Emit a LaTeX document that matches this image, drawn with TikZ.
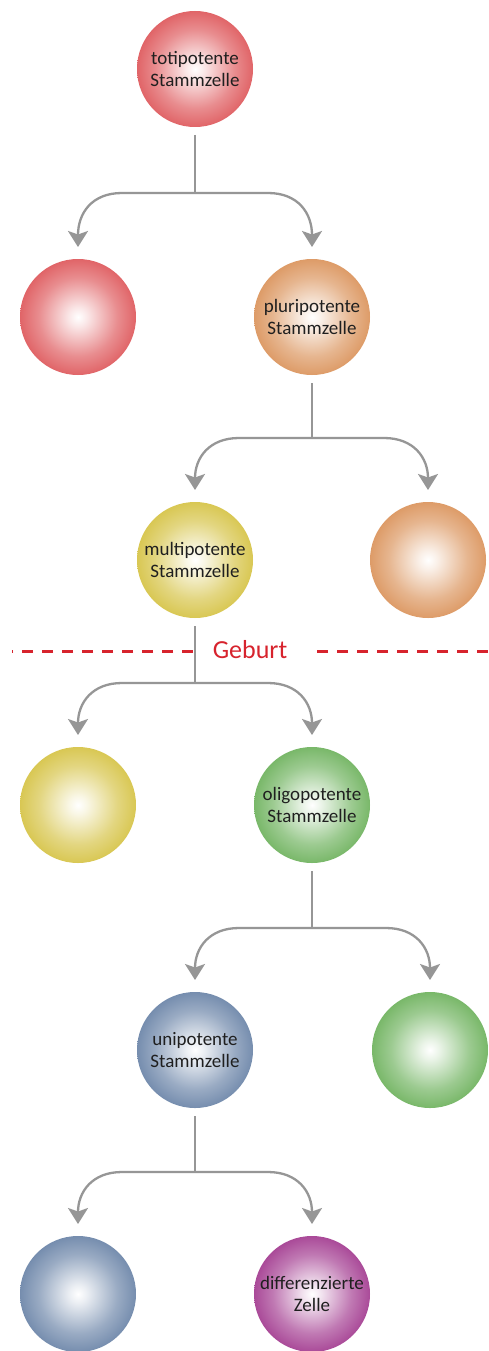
\documentclass[tikz,border=0pt]{standalone}
\usepackage{fontspec}
\setmainfont{Carlito}
\usetikzlibrary{arrows.meta,calc}
\definecolor{cred}{RGB}{216,58,62}
\definecolor{corange}{RGB}{212,128,62}
\definecolor{cyellow}{RGB}{206,184,36}
\definecolor{cgreen}{RGB}{84,164,64}
\definecolor{cblue}{RGB}{80,110,152}
\definecolor{cpurple}{RGB}{146,24,124}
\definecolor{linegray}{RGB}{150,150,150}
\definecolor{birthred}{RGB}{215,35,45}
\newcommand\declball[2]{\pgfdeclareradialshading{#1}{\pgfpoint{0bp}{0bp}}{color(0bp)=(white); color(4bp)=(white!88!#2); color(17bp)=(#2!58!white); color(28bp)=(#2!86!white); color(35bp)=(#2); color(72bp)=(#2)}}
\declball{ballred}{cred}
\declball{ballorange}{corange}
\declball{ballyellow}{cyellow}
\declball{ballgreen}{cgreen}
\declball{ballblue}{cblue}
\declball{ballpurple}{cpurple}
\tikzset{
  ball/.style={circle, minimum size=116pt, inner sep=0pt, outer sep=0pt, shade, shading=#1,
    font=\fontsize{19}{22}\selectfont, align=center, text=black!88},
  conn/.style={draw=linegray, line width=2.3pt},
  stem/.style={conn, shorten <=8pt},
  arr/.style={conn, -{Stealth[length=16pt,width=20pt,inset=3.5pt]}, shorten >=12pt},
  birth/.style={draw=birthred, line width=3pt, dash pattern=on 11pt off 9pt}
}
\begin{document}
\begin{tikzpicture}[x=1pt,y=-1pt]
\useasboundingbox (0,0) rectangle (488,1351);
\fill[white] (0,0) rectangle (488,1351);
% nodes
\node[ball=ballred] (t) at (195,69) {totipotente\\Stammzelle};
\node[ball=ballred] (r2) at (78,317) {};
\node[ball=ballorange] (p) at (312,317) {pluripotente\\Stammzelle};
\node[ball=ballyellow] (m) at (195,560) {multipotente\\Stammzelle};
\node[ball=ballorange] (o3) at (428,560) {};
\node[ball=ballyellow] (y4) at (78,805) {};
\node[ball=ballgreen] (o) at (312,805) {oligopotente\\Stammzelle};
\node[ball=ballblue] (u) at (195,1050) {unipotente\\Stammzelle};
\node[ball=ballgreen] (g5) at (430,1050) {};
\node[ball=ballblue] (b6) at (78,1294) {};
\node[ball=ballpurple] (d) at (312,1294) {differenzierte\\Zelle};
% birth line
\node[font=\fontsize{26}{30}\selectfont, text=birthred] (geb) at (250,650) {Geburt};
\draw[birth] (193,651) -- (12,651);
\draw[birth] (488,651) -- (308,651);
% junctions
\coordinate (j1) at (195,193);
\coordinate (j2) at (312,438);
\coordinate (j3) at (195,683);
\coordinate (j4) at (312,928);
\coordinate (j5) at (195,1172);
% connectors
\foreach \pa/\j/\l/\r in {t/j1/r2/p, p/j2/m/o3, m/j3/y4/o, o/j4/u/g5, u/j5/b6/d}{
  \draw[stem] (\pa.south) -- (\j);
  \draw[arr] (\j) -- ($(\j -| \l)+(44,0)$) .. controls ($(\j -| \l)+(14,0)$) and ($(\j -| \l)+(0,20)$) .. (\l.north);
  \draw[arr] (\j) -- ($(\j -| \r)+(-44,0)$) .. controls ($(\j -| \r)+(-14,0)$) and ($(\j -| \r)+(0,20)$) .. (\r.north);
}
\end{tikzpicture}
\end{document}
